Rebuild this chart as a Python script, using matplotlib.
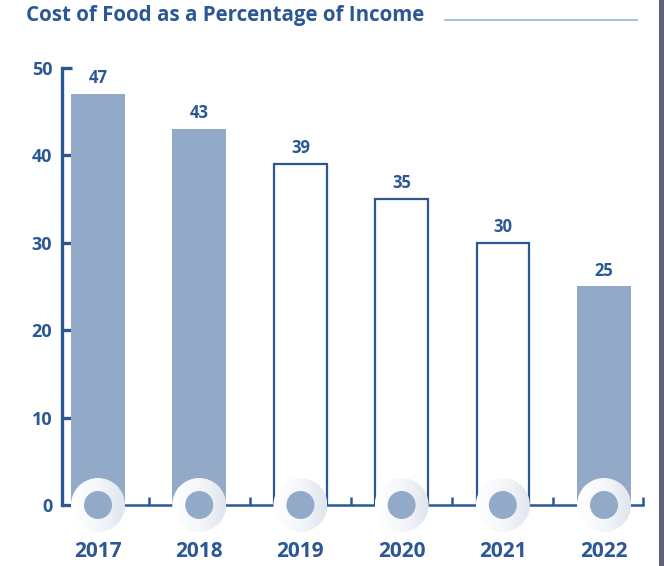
import matplotlib
matplotlib.use("Agg")
import matplotlib.pyplot as plt
import numpy as np
from matplotlib.patches import Ellipse, Rectangle
from matplotlib.lines import Line2D
from matplotlib.colors import LinearSegmentedColormap

years = ["2017", "2018", "2019", "2020", "2021", "2022"]
values = [47, 43, 39, 35, 30, 25]
filled = [True, True, False, False, False, True]
yticks = [0, 10, 20, 30, 40, 50]

dark = "#2c5795"
fill = "#92a9c8"

plt.rcParams['font.family'] = ['Open Sans', 'DejaVu Sans']

fig = plt.figure(figsize=(6.64, 5.66), dpi=100)
ax = fig.add_axes([62 / 664, 1 - 561.8 / 566, 581 / 664, 493.8 / 566])
x = np.arange(len(years))

# px per data unit
sx = 581 / (5.385 + 0.356)
sy = 493.8 / 56.5

for i, (v, f) in enumerate(zip(values, filled)):
    if f:
        ax.bar(x[i], v, width=0.534, color=fill, zorder=2)
    else:
        ax.bar(x[i], v, width=0.52, facecolor="white", edgecolor=dark, linewidth=1.6, zorder=2)
    ax.annotate(str(v), (x[i], v), xytext=(0, 5), textcoords="offset points",
                ha="center", va="bottom", fontsize=12, fontweight="bold", color=dark)

# spines
for s in ["top", "right"]:
    ax.spines[s].set_visible(False)
ax.spines["left"].set_bounds(0, 50)
ax.spines["left"].set_linewidth(2.4)
ax.spines["left"].set_color(dark)
ax.spines["bottom"].set_position(("data", 0))
ax.spines["bottom"].set_linewidth(1.8)
ax.spines["bottom"].set_color(dark)

ax.set_yticks(yticks)
ax.tick_params(axis="y", direction="in", length=7, width=2.4, color=dark,
               labelsize=13, labelcolor=dark, pad=7)
for t in ax.get_yticklabels():
    t.set_fontweight("bold")

ax.set_xticks([0.5, 1.5, 2.5, 3.5, 4.5, 5.385])
ax.set_xticklabels([])
ax.tick_params(axis="x", direction="in", length=6, width=1.8, color=dark)

# circles with gradient ring
grad = np.linspace(0, 1, 100).reshape(1, -1)
cmap = LinearSegmentedColormap.from_list("g", ["#ffffff", "#f6f7fa", "#dfe5ee"])
r_out = 27
r_in = 14
for i in range(len(years)):
    w = 2 * r_out / sx
    h = 2 * r_out / sy
    ell = Ellipse((x[i], 0), w, h, transform=ax.transData, facecolor="none", edgecolor="none")
    ax.add_patch(ell)
    im = ax.imshow(grad, cmap=cmap, extent=[x[i] - w / 2, x[i] + w / 2, -h / 2, h / 2],
                   aspect="auto", zorder=4, interpolation="bicubic")
    im.set_clip_path(ell)
    inner = Ellipse((x[i], 0), 2 * r_in / sx, 2 * r_in / sy, facecolor=fill,
                    edgecolor="none", zorder=5)
    ax.add_patch(inner)
    ax.text(x[i], -47 / sy, years[i], ha="center", va="center", fontsize=15,
            fontweight="bold", color=dark)

ax.set_xlim(-0.356, 5.385)
ax.set_ylim(-6.5, 50)

# title and decorative line
fig.text(26 / 664, 1 - 16 / 566, "Cost of Food as a Percentage of Income", ha="left",
         va="center", fontsize=14.8, fontweight="bold", color=dark)
fig.add_artist(Line2D([445 / 664, 637 / 664], [1 - 20 / 566, 1 - 20 / 566],
                      color="#9fb3d1", linewidth=1.2))
fig.add_artist(Rectangle((659 / 664, 0), 5 / 664, 1, transform=fig.transFigure,
                         facecolor="#5a6377", edgecolor="none"))

fig.savefig("out.png", dpi=100)
